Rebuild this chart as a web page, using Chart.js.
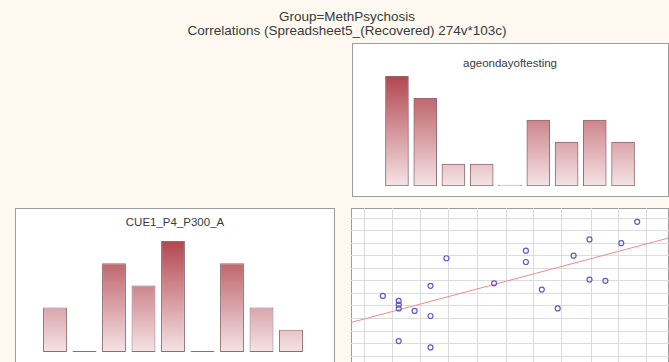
<!DOCTYPE html>
<html>
<head>
<meta charset="utf-8">
<script src="https://cdn.jsdelivr.net/npm/chart.js@4.4.1/dist/chart.umd.min.js"></script>
<style>
html, body { margin: 0; padding: 0; }
body { width: 669px; height: 362px; overflow: hidden; background: #fdf9f0; position: relative; font-family: "Liberation Sans", Arial, sans-serif; }
.hdr { position: absolute; left: 0; width: 694px; text-align: center; color: #3a3a3a; font-size: 13.5px; line-height: 14px; }
.panel { position: absolute; box-sizing: border-box; background: #fff; border: 1px solid #9c9c9c; }
.ptitle { position: absolute; text-align: center; font-size: 11.5px; line-height: 12px; color: #3a3a3a; }
canvas { position: absolute; }
</style>
</head>
<body>
<div class="hdr" style="top:10px">Group=MethPsychosis</div>
<div class="hdr" style="top:24px">Correlations (Spreadsheet5_(Recovered) 274v*103c)</div>

<div class="panel" style="left:352px;top:43px;width:317px;height:154px"></div>
<div class="panel" style="left:15px;top:208px;width:320px;height:170px"></div>
<div class="panel" style="left:351px;top:208px;width:318px;height:170px"></div>

<div class="ptitle" style="left:352px;top:57px;width:316px">ageondayoftesting</div>
<div class="ptitle" style="left:15px;top:216px;width:320px">CUE1_P4_P300_A</div>

<canvas id="histAge" width="318" height="153" style="left:351px;top:43px"></canvas>
<canvas id="histP300" width="320" height="170" style="left:15px;top:208px"></canvas>
<canvas id="scatter" width="318" height="167" style="left:351px;top:208px"></canvas>

<script>
// ageondayoftesting histogram (bin centres, counts)
const ageBinCenters = [19.89, 21.67, 23.44, 25.22, 27.0, 28.78, 30.56, 32.33, 34.11];
const ageBinCounts = [5, 4, 1, 1, 0, 3, 2, 3, 2];

// CUE1_P4_P300_A histogram
const p300BinLabels = ['1.3', '2.4', '3.5', '4.6', '5.7', '6.8', '7.9', '9.0', '10.1'];
const p300BinCounts = [2, 0, 4, 3, 5, 0, 4, 2, 1];

// scatter: x = ageondayoftesting, y = CUE1_P4_P300_A
const ageValues = [19, 20, 20, 20, 21, 22, 22, 23, 20, 22, 26, 28, 28, 29, 30, 31, 32, 32, 33, 34, 35];
const p300Values = [4.8, 4.4, 4.1, 3.8, 3.6, 5.6, 3.2, 7.8, 1.2, 0.7, 5.8, 8.4, 7.5, 5.3, 3.8, 8.0, 9.3, 6.1, 6.0, 9.0, 10.7];

// fitted line end points
const fitX = [17, 36.94];
const fitY = [2.68, 9.4];

// grid ticks
const xGridTicks = [17.85, 19.6, 21.4, 23.15, 24.95, 26.75, 28.5, 30.25, 32.1, 33.85, 35.6];
const yGridTicks = [0, 1, 2, 3, 4, 5, 6, 7, 8, 9, 10, 11];

function barGradient(c) {
    const chart = c.chart;
    const a = chart.chartArea;
    if (!a) return '#d08890';
    const g = chart.ctx.createLinearGradient(0, a.top, 0, a.bottom);
    g.addColorStop(0, '#b2474f');
    g.addColorStop(1, '#f5e3e6');
    return g;
}

const common = { responsive: false, animation: false, devicePixelRatio: 1, plugins: { legend: { display: false }, tooltip: { enabled: false } } };

new Chart(document.getElementById('histAge'), {
    type: 'bar',
    data: {
        datasets: [{
            data: ageBinCenters.map((x, i) => ({ x, y: ageBinCounts[i] })),
            backgroundColor: barGradient, borderColor: '#8e6c72', borderWidth: 1, borderSkipped: false,
            barThickness: 23, minBarLength: 1
        }]
    },
    options: {
        ...common,
        layout: { autoPadding: false, padding: { top: 33, bottom: 10, left: 0, right: 0 } },
        scales: {
            x: { type: 'linear', min: 17, max: 37, offset: false, display: false },
            y: { min: 0, max: 5, display: false }
        }
    }
});

new Chart(document.getElementById('histP300'), {
    type: 'bar',
    data: {
        labels: p300BinLabels,
        datasets: [{
            data: p300BinCounts,
            backgroundColor: barGradient, borderColor: '#8e6c72', borderWidth: 1, borderSkipped: false,
            barPercentage: 0.81, categoryPercentage: 1, minBarLength: 1
        }]
    },
    options: {
        ...common,
        layout: { autoPadding: false, padding: { top: 33, bottom: 26, left: 25.25, right: 29.25 } },
        scales: {
            x: { display: false },
            y: { min: 0, max: 5, display: false }
        }
    }
});

new Chart(document.getElementById('scatter'), {
    type: 'scatter',
    data: {
        datasets: [
            {
                data: ageValues.map((x, i) => ({ x, y: p300Values[i] })),
                pointStyle: 'circle', pointRadius: 2.5, borderWidth: 1.2,
                borderColor: '#5a5ad2', backgroundColor: 'rgba(255,255,255,0)', order: 1
            },
            {
                type: 'line',
                data: fitX.map((x, i) => ({ x, y: fitY[i] })),
                borderColor: '#f28b8b', borderWidth: 1, pointRadius: 0, fill: false, order: 2
            }
        ]
    },
    options: {
        ...common,
        layout: { autoPadding: false, padding: 0 },
        scales: {
            x: {
                type: 'linear', min: 17, max: 37,
                afterBuildTicks: s => { s.ticks = xGridTicks.map(v => ({ value: v })); },
                ticks: { display: false }, border: { display: false },
                grid: { color: '#dcdcdc', drawTicks: false }
            },
            y: {
                min: -1.5, max: 11.8,
                afterBuildTicks: s => { s.ticks = yGridTicks.map(v => ({ value: v })); },
                ticks: { display: false }, border: { display: false },
                grid: { color: '#dcdcdc', drawTicks: false }
            }
        }
    }
});
</script>
</body>
</html>
